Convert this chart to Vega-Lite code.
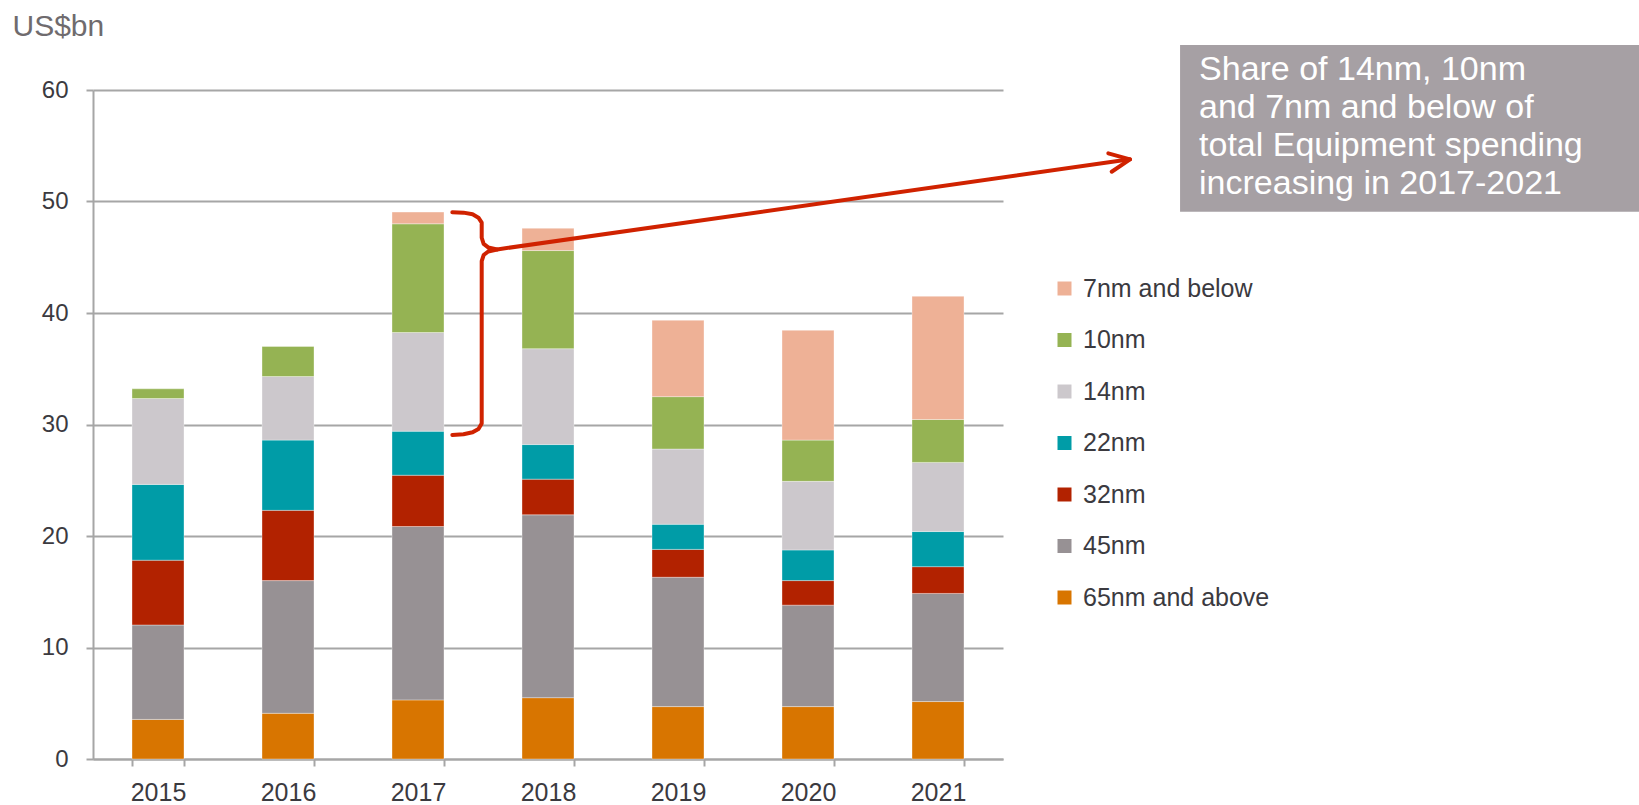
{
  "$schema": "https://vega.github.io/schema/vega-lite/v6.json",
  "width": 910,
  "height": 669,
  "autosize": {"type": "none"},
  "padding": {"left": 93, "top": 90, "right": 636, "bottom": 46},
  "background": "white",
  "config": {
    "font": "Liberation Sans",
    "view": {"stroke": null},
    "axis": {"labelColor": "#3b3a3f", "labelFont": "Liberation Sans", "titleFont": "Liberation Sans"},
    "legend": {
      "orient": "none", "legendX": 959, "legendY": 186, "padding": 0,
      "symbolType": "square", "symbolSize": 196, "symbolStrokeWidth": 0,
      "labelFontSize": 25, "labelColor": "#3b3a3f", "labelFont": "Liberation Sans",
      "labelLimit": 0, "rowPadding": 25.5, "labelOffset": 6
    }
  },
  "datasets": {
    "bars": [
      {"year": "2015", "node": "65nm and above", "k": 1, "value": 3.55},
      {"year": "2015", "node": "45nm", "k": 2, "value": 8.47},
      {"year": "2015", "node": "32nm", "k": 3, "value": 5.81},
      {"year": "2015", "node": "22nm", "k": 4, "value": 6.8},
      {"year": "2015", "node": "14nm", "k": 5, "value": 7.7},
      {"year": "2015", "node": "10nm", "k": 6, "value": 0.87},
      {"year": "2016", "node": "65nm and above", "k": 1, "value": 4.1},
      {"year": "2016", "node": "45nm", "k": 2, "value": 11.9},
      {"year": "2016", "node": "32nm", "k": 3, "value": 6.3},
      {"year": "2016", "node": "22nm", "k": 4, "value": 6.3},
      {"year": "2016", "node": "14nm", "k": 5, "value": 5.7},
      {"year": "2016", "node": "10nm", "k": 6, "value": 2.7},
      {"year": "2017", "node": "65nm and above", "k": 1, "value": 5.3},
      {"year": "2017", "node": "45nm", "k": 2, "value": 15.55},
      {"year": "2017", "node": "32nm", "k": 3, "value": 4.6},
      {"year": "2017", "node": "22nm", "k": 4, "value": 3.95},
      {"year": "2017", "node": "14nm", "k": 5, "value": 8.85},
      {"year": "2017", "node": "10nm", "k": 6, "value": 9.75},
      {"year": "2017", "node": "7nm and below", "k": 7, "value": 1.05},
      {"year": "2018", "node": "65nm and above", "k": 1, "value": 5.5},
      {"year": "2018", "node": "45nm", "k": 2, "value": 16.4},
      {"year": "2018", "node": "32nm", "k": 3, "value": 3.2},
      {"year": "2018", "node": "22nm", "k": 4, "value": 3.1},
      {"year": "2018", "node": "14nm", "k": 5, "value": 8.6},
      {"year": "2018", "node": "10nm", "k": 6, "value": 8.8},
      {"year": "2018", "node": "7nm and below", "k": 7, "value": 2.0},
      {"year": "2019", "node": "65nm and above", "k": 1, "value": 4.7},
      {"year": "2019", "node": "45nm", "k": 2, "value": 11.6},
      {"year": "2019", "node": "32nm", "k": 3, "value": 2.5},
      {"year": "2019", "node": "22nm", "k": 4, "value": 2.25},
      {"year": "2019", "node": "14nm", "k": 5, "value": 6.75},
      {"year": "2019", "node": "10nm", "k": 6, "value": 4.7},
      {"year": "2019", "node": "7nm and below", "k": 7, "value": 6.85},
      {"year": "2020", "node": "65nm and above", "k": 1, "value": 4.7},
      {"year": "2020", "node": "45nm", "k": 2, "value": 9.1},
      {"year": "2020", "node": "32nm", "k": 3, "value": 2.2},
      {"year": "2020", "node": "22nm", "k": 4, "value": 2.75},
      {"year": "2020", "node": "14nm", "k": 5, "value": 6.15},
      {"year": "2020", "node": "10nm", "k": 6, "value": 3.7},
      {"year": "2020", "node": "7nm and below", "k": 7, "value": 9.85},
      {"year": "2021", "node": "65nm and above", "k": 1, "value": 5.15},
      {"year": "2021", "node": "45nm", "k": 2, "value": 9.7},
      {"year": "2021", "node": "32nm", "k": 3, "value": 2.4},
      {"year": "2021", "node": "22nm", "k": 4, "value": 3.15},
      {"year": "2021", "node": "14nm", "k": 5, "value": 6.2},
      {"year": "2021", "node": "10nm", "k": 6, "value": 3.85},
      {"year": "2021", "node": "7nm and below", "k": 7, "value": 11.05}
    ],
    "box": [{"u": 8.362, "u2": 12.2, "value": 49.09, "value2": 64.04}],
    "note": [{"u": 8.508, "value": 60.9, "t": "Share of 14nm, 10nm|and 7nm and below of|total Equipment spending|increasing in 2017-2021"}],
    "lines": [
      {"grp": "brace", "i": 1, "u": 2.764, "value": 49.03},
      {"grp": "brace", "i": 2, "u": 2.85, "value": 49.0},
      {"grp": "brace", "i": 3, "u": 2.92, "value": 48.85},
      {"grp": "brace", "i": 4, "u": 2.965, "value": 48.55},
      {"grp": "brace", "i": 5, "u": 2.99, "value": 48.1},
      {"grp": "brace", "i": 6, "u": 2.99, "value": 46.75},
      {"grp": "brace", "i": 7, "u": 3.005, "value": 46.2},
      {"grp": "brace", "i": 8, "u": 3.04, "value": 45.88},
      {"grp": "brace", "i": 9, "u": 3.108, "value": 45.7},
      {"grp": "brace", "i": 10, "u": 3.04, "value": 45.52},
      {"grp": "brace", "i": 11, "u": 3.005, "value": 45.2},
      {"grp": "brace", "i": 12, "u": 2.99, "value": 44.65},
      {"grp": "brace", "i": 13, "u": 2.99, "value": 30.1},
      {"grp": "brace", "i": 14, "u": 2.965, "value": 29.6},
      {"grp": "brace", "i": 15, "u": 2.92, "value": 29.3},
      {"grp": "brace", "i": 16, "u": 2.85, "value": 29.12},
      {"grp": "brace", "i": 17, "u": 2.764, "value": 29.06},
      {"grp": "arrow", "i": 1, "u": 3.108, "value": 45.7},
      {"grp": "arrow", "i": 2, "u": 7.977, "value": 53.78},
      {"grp": "head", "i": 1, "u": 7.81, "value": 54.32},
      {"grp": "head", "i": 2, "u": 7.977, "value": 53.78},
      {"grp": "head", "i": 3, "u": 7.836, "value": 52.67}
    ]
  },
  "layer": [
    {
      "data": {"name": "bars"},
      "mark": {"type": "bar", "stroke": "#ffffff", "strokeWidth": 1, "strokeOpacity": 0.35},
      "encoding": {
        "x": {
          "field": "year", "type": "ordinal",
          "scale": {"paddingInner": 0.6, "paddingOuter": 0.3},
          "axis": {
            "title": null, "labelAngle": 0, "tickBand": "extent", "tickSize": 7,
            "labelPadding": 14, "labelFontSize": 25, "domainColor": "#a6a6a6",
            "tickColor": "#a6a6a6", "domainWidth": 2, "tickWidth": 2, "grid": false
          }
        },
        "y": {
          "field": "value", "type": "quantitative", "stack": "zero",
          "scale": {"domain": [0, 60], "nice": false},
          "axis": {
            "title": "US$bn", "titleAngle": 0, "titleAlign": "left", "titleBaseline": "alphabetic",
            "titleX": -81, "titleY": -55, "titleFontSize": 30, "titleFontWeight": "normal",
            "titleColor": "#6f6b6e", "values": [0, 10, 20, 30, 40, 50, 60],
            "tickSize": 7, "labelPadding": 18, "labelFontSize": 24,
            "gridColor": "#a6a6a6", "gridWidth": 2, "domainColor": "#a6a6a6",
            "domainWidth": 2, "tickColor": "#a6a6a6", "tickWidth": 2
          }
        },
        "color": {
          "field": "node", "type": "nominal",
          "scale": {
            "domain": ["7nm and below", "10nm", "14nm", "22nm", "32nm", "45nm", "65nm and above"],
            "range": ["#eeb196", "#95b353", "#ccc8cc", "#009ca7", "#b22200", "#979194", "#d87500"]
          },
          "legend": {"title": null}
        },
        "order": {"field": "k", "type": "quantitative"}
      }
    },
    {
      "data": {"name": "box"},
      "mark": {"type": "rect", "color": "#a6a0a4"},
      "encoding": {
        "x": {"field": "u", "type": "quantitative", "scale": {"domain": [0, 7], "nice": false, "zero": false}, "axis": null},
        "x2": {"field": "u2"},
        "y": {"field": "value", "type": "quantitative", "scale": {"domain": [0, 60], "nice": false}},
        "y2": {"field": "value2"}
      }
    },
    {
      "data": {"name": "note"},
      "mark": {"type": "text", "align": "left", "baseline": "alphabetic", "fontSize": 34, "lineHeight": 38, "lineBreak": "|", "color": "#ffffff", "font": "Liberation Sans"},
      "encoding": {
        "x": {"field": "u", "type": "quantitative", "scale": {"domain": [0, 7], "nice": false, "zero": false}, "axis": null},
        "y": {"field": "value", "type": "quantitative", "scale": {"domain": [0, 60], "nice": false}},
        "text": {"field": "t", "type": "nominal"}
      }
    },
    {
      "data": {"name": "lines"},
      "mark": {"type": "line", "color": "#d02200", "strokeWidth": 4, "strokeCap": "round", "strokeJoin": "round"},
      "encoding": {
        "x": {"field": "u", "type": "quantitative", "scale": {"domain": [0, 7], "nice": false, "zero": false}, "axis": null},
        "y": {"field": "value", "type": "quantitative", "scale": {"domain": [0, 60], "nice": false}},
        "detail": {"field": "grp", "type": "nominal"},
        "order": {"field": "i", "type": "quantitative"}
      }
    }
  ],
  "resolve": {"scale": {"x": "independent"}}
}
